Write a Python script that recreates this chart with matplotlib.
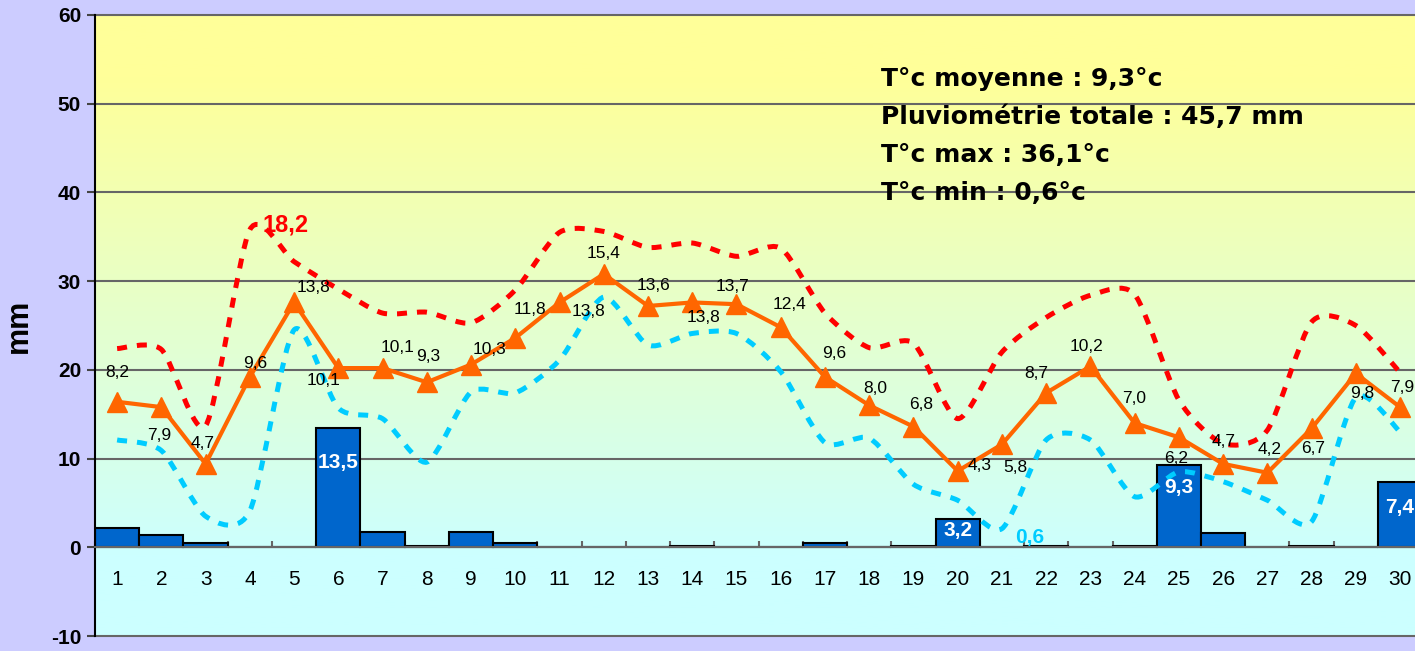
import numpy as np
import matplotlib.pyplot as plt
from matplotlib.path import Path
from matplotlib.patches import PathPatch
from matplotlib.colors import LinearSegmentedColormap

# valeurs
jours = list(range(1, 31))
pluie = [2.2, 1.4, 0.5, 0, 0, 13.5, 1.7, 0.2, 1.7, 0.5, 0, 0, 0, 0.2, 0,
         0, 0.5, 0, 0.2, 3.2, 0, 0.2, 0, 0.2, 9.3, 1.6, 0, 0.2, 0, 7.4]
t_moy = [8.2, 7.9, 4.7, 9.6, 13.8, 10.1, 10.1, 9.3, 10.3, 11.8, 13.8, 15.4,
         13.6, 13.8, 13.7, 12.4, 9.6, 8.0, 6.8, 4.3, 5.8, 8.7, 10.2, 7.0,
         6.2, 4.7, 4.2, 6.7, 9.8, 7.9]
courbe_rouge = [22.4, 22.3, 13.7, 35.8, 32.2, 29.1, 26.4, 26.5, 25.3, 29.0,
                35.5, 35.6, 33.8, 34.3, 32.8, 33.7, 26.4, 22.5, 23.0, 14.5,
                22.0, 25.9, 28.4, 28.5, 16.6, 11.7, 13.2, 25.4, 25.0, 19.7]
courbe_bleue = [12.1, 10.9, 3.5, 4.1, 24.5, 15.7, 14.5, 9.6, 17.5, 17.4,
                21.1, 28.2, 22.8, 24.1, 24.1, 19.8, 11.8, 12.3, 7.1, 5.3,
                2.1, 12.1, 12.1, 5.7, 8.5, 7.4, 5.3, 2.9, 16.9, 13.0]
texte_max = "18,2"
texte_min = "0,6"
resume = ["T°c moyenne : 9,3°c",
          "Pluviométrie totale : 45,7 mm",
          "T°c max : 36,1°c",
          "T°c min : 0,6°c"]

# placement des étiquettes (pixels, y vers le bas)
lbl_dx = [0, -2, -3, 5, 19, -15, 15, 1, 18, 15, 29, 0, 6, 11, -4, 9, 9, 6, 8,
          22, 13, -10, -4, -1, -3, 1, 2, 2, 6, 2]
lbl_dy = [-29, 28, -20, -13, -15, 12, -21, -26, -15, -28, 9, -21, -20, 15,
          -18, -23, -23, -17, -22, -5, 23, -19, -20, -25, 21, -22, -23, 20,
          20, -20]
bar_lbl_dy = [35, 12, 23, 26]

NUM = ['Liberation Sans', 'DejaVu Sans']


def virgule(v):
    return f"{v:.1f}".replace('.', ',')


def courbe_lisse(x, y, k=1 / 8):
    """Chemin de Bezier passant par les points (lissage facon tableur)."""
    pts = np.column_stack([x, y]).astype(float)
    verts = [pts[0]]
    codes = [Path.MOVETO]
    n = len(pts)
    for i in range(n - 1):
        p0 = pts[max(i - 1, 0)]
        p1 = pts[i]
        p2 = pts[i + 1]
        p3 = pts[min(i + 2, n - 1)]
        verts += [p1 + (p2 - p0) * k, p2 - (p3 - p1) * k, p2]
        codes += [Path.CURVE4] * 3
    return Path(verts, codes)


fig = plt.figure(figsize=(14.15, 6.51), dpi=100, facecolor='#CCCCFF')
ax = fig.add_axes([95 / 1415, 15 / 651, 30 * 44.24 / 1415, 621 / 651])

# fond dégradé
fond = LinearSegmentedColormap.from_list('fond', [(0, '#CCFFFF'), (0.13, '#CCFFFF'),
                                                  (0.9, '#FFFF99'), (1, '#FFFF99')])
grad = np.linspace(0, 1, 256).reshape(-1, 1)
ax.imshow(grad, extent=(0.5, 30.5, -10, 60), origin='lower', aspect='auto',
          cmap=fond, zorder=0)

ax.set_xlim(0.5, 30.5)
ax.set_ylim(-10, 60)
ax.set_yticks(range(-10, 61, 10))
for yv in range(-10, 61, 10):
    ax.axhline(yv, color='#666666', lw=1.5, zorder=0.5, clip_on=False)

# précipitations
ax.bar(jours, pluie, width=1.0, color='#0066CC', edgecolor='black',
       linewidth=1.5, zorder=2)
k = 0
for d, v in zip(jours, pluie):
    if v >= 3:
        ax.annotate(virgule(v), (d, v), xytext=(0, -bar_lbl_dy[k]),
                    textcoords='offset pixels', ha='center', va='center',
                    color='white', fontsize=15, fontweight='bold', family=NUM,
                    zorder=6)
        k += 1

# courbes pointillées lissées
for vals, col in [(courbe_rouge, '#FF0000'), (courbe_bleue, '#00CCFF')]:
    ax.add_patch(PathPatch(courbe_lisse(jours, vals), fill=False,
                           edgecolor=col, lw=3.6, linestyle=(0, (2.0, 2.0)),
                           capstyle='butt', zorder=3))

i_max = int(np.argmax(courbe_rouge))
ax.annotate(texte_max, (jours[i_max], courbe_rouge[i_max]), xytext=(36, 5),
            textcoords='offset pixels', ha='center', va='center',
            color='#FF0000', fontsize=17, fontweight='bold', family=NUM, zorder=6)
i_min = int(np.argmin(courbe_bleue))
ax.annotate(texte_min, (jours[i_min], courbe_bleue[i_min]), xytext=(28, -9),
            textcoords='offset pixels', ha='center', va='center',
            color='#00CCFF', fontsize=15, fontweight='bold', family=NUM, zorder=6)

# axes
for s in ['top', 'right']:
    ax.spines[s].set_visible(False)
ax.spines['left'].set_linewidth(1.5)
ax.spines['bottom'].set_position(('data', 0))
ax.spines['bottom'].set_color('#666666')
ax.spines['bottom'].set_linewidth(1.5)
ax.set_xticks(jours)
ax.set_xticklabels([str(d) for d in jours], family=NUM, fontsize=15)
ax.set_xticks(np.arange(0.5, 31, 1), minor=True)
ax.tick_params(axis='x', which='major', length=0, pad=16)
ax.tick_params(axis='x', which='minor', direction='in', length=4.5,
               width=1.5, color='#666666')
ax.tick_params(axis='y', direction='out', length=6, width=1.5,
               color='#444444', pad=4)
ax.set_yticklabels([str(v) for v in range(-10, 61, 10)], family=NUM,
                   fontsize=15, fontweight='bold')
ax.set_ylabel('mm', family=NUM, fontsize=22, fontweight='bold', labelpad=12)

# température moyenne sur axe secondaire
ax2 = ax.twinx()
ax2.set_ylim(-5, 30)
ax2.axis('off')
ax2.plot(jours, t_moy, color='#FF6600', lw=3, marker='^', markersize=15,
         zorder=4)
for d, v, dx, dy in zip(jours, t_moy, lbl_dx, lbl_dy):
    ax2.annotate(virgule(v), (d, v), xytext=(dx, -dy),
                 textcoords='offset pixels', ha='center', va='center',
                 fontsize=12.5, family=NUM, color='black', zorder=5)

# résumé du mois
for j, ligne in enumerate(resume):
    fig.text(881 / 1415, 1 - (79 + 38 * j) / 651, ligne, ha='left',
             va='center', fontsize=18, fontweight='bold', family='DejaVu Sans')

fig.savefig('out.png', dpi=100, facecolor=fig.get_facecolor())
